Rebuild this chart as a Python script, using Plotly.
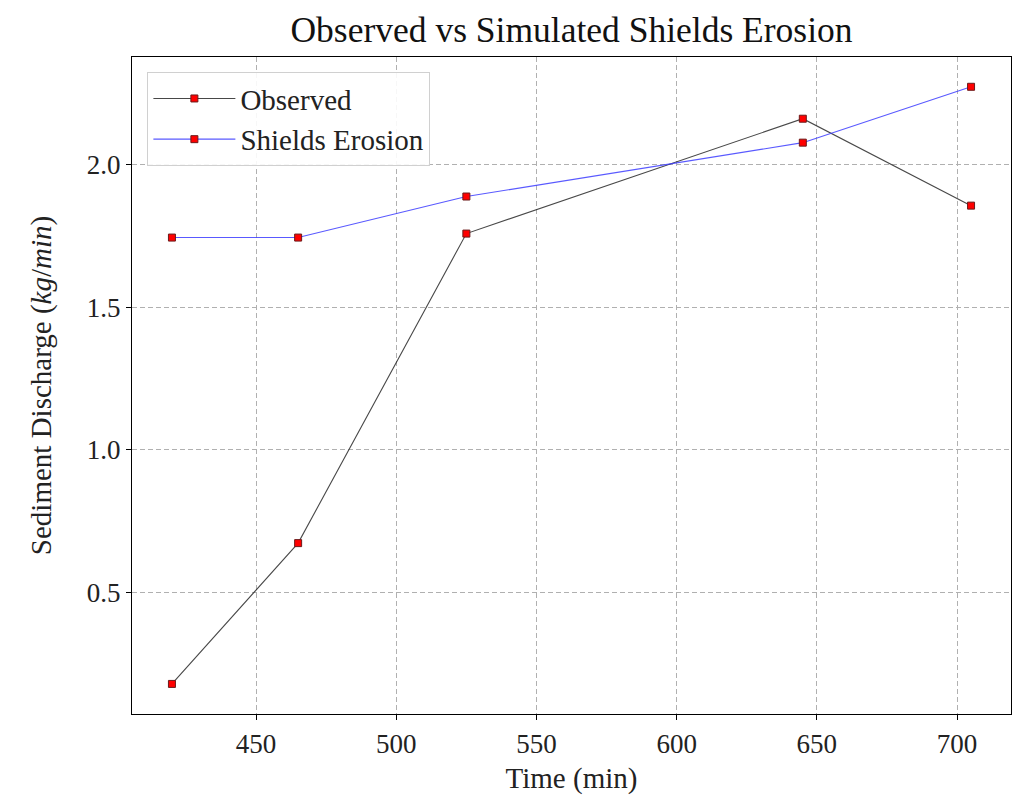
import plotly.graph_objects as go

time_min = [420, 465, 525, 645, 705]
observed = [0.178, 0.672, 1.758, 2.161, 1.856]
shields = [1.744, 1.744, 1.888, 2.077, 2.273]
x_ticks = [450, 500, 550, 600, 650, 700]
y_ticks = [0.5, 1.0, 1.5, 2.0]

ff = "Liberation Serif, Times New Roman, serif"
marker = dict(symbol="square", size=7, color="#ff0000", line=dict(color="#6b1a1a", width=1))

fig = go.Figure()
fig.add_trace(go.Scatter(x=time_min, y=observed, mode="lines+markers", name="Observed",
                         line=dict(color="rgba(40,40,40,0.85)", width=1.1), marker=marker))
fig.add_trace(go.Scatter(x=time_min, y=shields, mode="lines+markers", name="Shields Erosion",
                         line=dict(color="rgba(60,60,255,0.85)", width=1.1), marker=marker))

axis_common = dict(showline=True, linecolor="black", linewidth=1.3, mirror=True,
                   ticks="outside", ticklen=5, tickcolor="black", tickwidth=1,
                   showgrid=True, gridcolor="#b0b0b0", griddash="5px,3px", gridwidth=1,
                   zeroline=False, tickfont=dict(family=ff, size=27, color="#222"))

fig.update_layout(
    width=1013, height=803,
    margin=dict(l=132, r=2, t=57, b=89),
    plot_bgcolor="white", paper_bgcolor="white",
    font=dict(family=ff, color="#222"),
    title=dict(text="Observed vs Simulated Shields Erosion", x=0.5, xref="paper", xanchor="center",
               y=1 - 30 / 803, yanchor="middle", font=dict(family=ff, size=35.5, color="#111")),
    xaxis=dict(range=[405.75, 719.25], tickvals=x_ticks,
               title=dict(text="Time (min)", font=dict(family=ff, size=29), standoff=10), **axis_common),
    yaxis=dict(range=[0.0725, 2.3775], tickvals=y_ticks, tickformat=".1f",
               title=dict(text="Sediment Discharge (<i>kg</i>/<i>min</i>)", font=dict(family=ff, size=29), standoff=26),
               **axis_common),
    legend=dict(x=0.0175, y=0.977, xanchor="left", yanchor="top",
                bgcolor="rgba(255,255,255,0.9)", bordercolor="#d0d0d0", borderwidth=1,
                font=dict(family=ff, size=29), itemwidth=82),
    showlegend=True,
)

fig.write_html("out.html")
